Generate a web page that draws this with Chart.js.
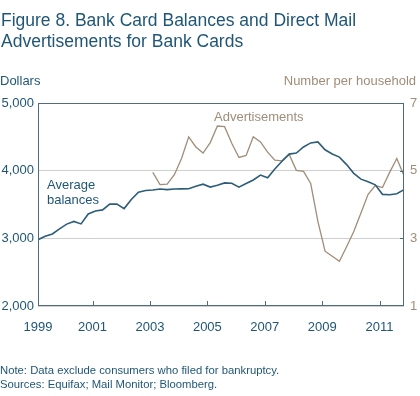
<!DOCTYPE html>
<html>
<head>
<meta charset="utf-8">
<script src="https://cdn.jsdelivr.net/npm/chart.js@4.4.1/dist/chart.umd.min.js"></script>
<style>
  html, body { margin: 0; padding: 0; background: #fff; }
</style>
</head>
<body>
<canvas id="chart" width="420" height="396"></canvas>
<script>
// Quarterly series
const balanceStart = 1999.1;   // first quarter plotted
const balances = [
    2980, 3030, 3065, 3140, 3210, 3250, 3213, 3360, 3405, 3420,
    3505, 3508, 3440, 3575, 3682, 3708, 3715, 3730, 3720, 3728,
    3731, 3733, 3770, 3800, 3757, 3785, 3819, 3815, 3757, 3810,
    3863, 3935, 3895, 4025, 4140, 4245, 4260, 4350, 4410, 4425,
    4309, 4247, 4200, 4090, 3960, 3875, 3835, 3790, 3650, 3645,
    3660, 3720
];
const adStart = 2003.1;
const ads = [
    4.95, 4.59, 4.60, 4.88, 5.36, 6.00, 5.70, 5.52, 5.83, 6.32,
    6.30, 5.81, 5.39, 5.45, 6.00, 5.85, 5.55, 5.31, 5.29, 5.48,
    5.01, 4.98, 4.62, 3.50, 2.62, 2.47, 2.32, 2.75, 3.20, 3.75,
    4.30, 4.56, 4.50, 4.95, 5.36, 4.85
];
const yearTicks = [1999, 2001, 2003, 2005, 2007, 2009, 2011];
const dollarTicks = [2000, 3000, 4000, 5000];
const adTicks = [1, 3, 5, 7];

const xMin = 1999.1, xMax = 2011.85;
const BLUE = "#2d5d78";
const TEXT = "#1f5676";
const TAN = "#a08d79";
const FONT = '"Liberation Sans", Arial, sans-serif';

// frame round the plot, inward tick marks
const framePlugin = {
    id: 'frame',
    afterDatasetsDraw(chart) {
        const { ctx, chartArea: a, scales } = chart;
        ctx.save();
        ctx.strokeStyle = "#4e6c7c";
        ctx.lineWidth = 1;
        ctx.strokeRect(Math.round(a.left) + 0.5, Math.round(a.top) + 0.5,
            Math.round(a.right - a.left) - 1, Math.round(a.bottom - a.top) - 1);
        ctx.beginPath();
        yearTicks.slice(1).forEach(y => {
            const px = Math.round(scales.x.getPixelForValue(y)) + 0.5;
            ctx.moveTo(px, a.bottom);
            ctx.lineTo(px, a.bottom - 5);
        });
        adTicks.slice(1, -1).forEach(v => {
            const py = Math.round(scales.y1.getPixelForValue(v)) + 0.5;
            ctx.moveTo(a.right, py);
            ctx.lineTo(a.right - 4, py);
        });
        ctx.stroke();
        ctx.restore();
    }
};

// titles, labels and notes
const textPlugin = {
    id: 'texts',
    afterDraw(chart) {
        const ctx = chart.ctx;
        ctx.save();
        ctx.textBaseline = 'alphabetic';
        ctx.fillStyle = TEXT;
        ctx.font = '17.5px ' + FONT;
        ctx.fillText("Figure 8. Bank Card Balances and Direct Mail", 1, 25.5);
        ctx.fillText("Advertisements for Bank Cards", 1, 46.5);

        ctx.font = '13px ' + FONT;
        ctx.fillText("Dollars", 0, 85);
        ctx.fillText("Average", 47, 189);
        ctx.fillText("balances", 47, 204);

        ctx.fillStyle = TAN;
        ctx.fillText("Advertisements", 214, 121);
        ctx.textAlign = 'right';
        ctx.fillText("Number per household", 416, 85);

        ctx.textAlign = 'left';
        ctx.fillStyle = TEXT;
        ctx.font = '11.3px ' + FONT;
        ctx.fillText("Note: Data exclude consumers who filed for bankruptcy.", 0, 374);
        ctx.fillText("Sources: Equifax; Mail Monitor; Bloomberg.", 0, 387.5);
        ctx.restore();
    }
};

const chart = new Chart(document.getElementById("chart"), {
    type: 'line',
    data: {
        datasets: [{
            label: "Average balances",
            data: balances.map((v, i) => ({ x: balanceStart + 0.25 * i, y: v })),
            borderColor: BLUE,
            borderWidth: 1.6,
            pointRadius: 0,
            tension: 0,
            yAxisID: 'y'
        }, {
            label: "Advertisements",
            data: ads.map((v, i) => ({ x: adStart + 0.25 * i, y: v })),
            borderColor: TAN,
            borderWidth: 1.3,
            pointRadius: 0,
            tension: 0,
            yAxisID: 'y1'
        }]
    },
    options: {
        responsive: false,
        animation: false,
        devicePixelRatio: 1,
        layout: { padding: { top: 103, bottom: 60, left: 0, right: 0 } },
        plugins: {
            legend: { display: false },
            tooltip: { enabled: false }
        },
        scales: {
            x: {
                type: 'linear',
                min: xMin,
                max: xMax,
                afterBuildTicks: s => { s.ticks = yearTicks.map(v => ({ value: Math.max(v, xMin) })); },
                afterFit: s => { s.height = 30; },
                grid: { display: false },
                border: { display: false },
                ticks: {
                    padding: 6,
                    color: TEXT,
                    font: { family: FONT, size: 13 },
                    maxRotation: 0,
                    callback: v => String(Math.round(v))
                }
            },
            y: {
                position: 'left',
                min: 2000,
                max: 5000,
                afterBuildTicks: s => { s.ticks = dollarTicks.map(v => ({ value: v })); },
                afterFit: s => { s.width = 38; },
                grid: {
                    drawTicks: false,
                    color: "#cfcfcf",
                    lineWidth: 1
                },
                border: { display: false },
                ticks: {
                    padding: 4,
                    color: TEXT,
                    font: { family: FONT, size: 13 },
                    callback: v => v.toLocaleString('en-US')
                }
            },
            y1: {
                position: 'right',
                min: 1,
                max: 7,
                afterBuildTicks: s => { s.ticks = adTicks.map(v => ({ value: v })); },
                afterFit: s => { s.width = 16; },
                grid: { drawOnChartArea: false, drawTicks: false },
                border: { display: false },
                ticks: {
                    padding: 6,
                    color: TAN,
                    font: { family: FONT, size: 13 }
                }
            }
        }
    },
    plugins: [framePlugin, textPlugin]
});
</script>
</body>
</html>
